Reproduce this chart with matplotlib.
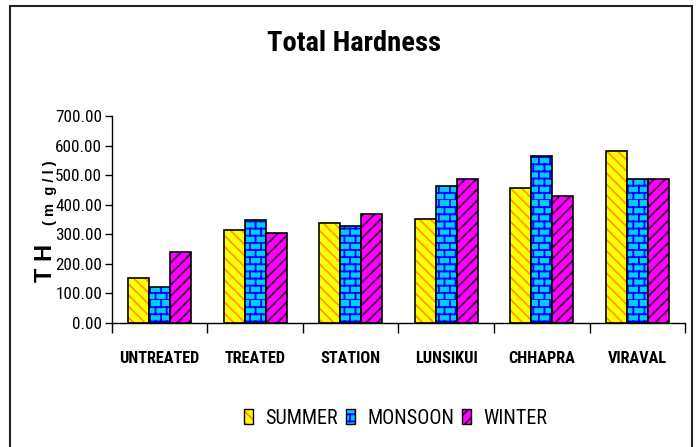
import warnings
import numpy as np
import matplotlib
matplotlib.use("Agg")
import matplotlib.pyplot as plt
import matplotlib.patches as mpatches
from matplotlib import hatch as mhatch
from matplotlib.path import Path

warnings.filterwarnings("ignore")

sites = ["UNTREATED", "TREATED", "STATION", "LUNSIKUI", "CHHAPRA", "VIRAVAL"]
summer = [152, 316, 339, 352, 458, 581]
monsoon = [123, 347, 328, 464, 565, 488]
winter = [240, 305, 370, 488, 430, 488]
seasons = ["SUMMER", "MONSOON", "WINTER"]


# brick pattern for the monsoon bars, hatch char 'b'
class BrickHatch(mhatch.HatchPatternBase):
    def __init__(self, hatch, density):
        n = hatch.count('b')
        self.rows = int(2.4 * density) * n
        self.cols = int(1.6 * density) * n
        self.num_vertices = 2 * self.rows + 2 * self.rows * self.cols

    def set_vertices_and_codes(self, vertices, codes):
        k = 0
        for i in range(self.rows):
            y0 = i / self.rows
            y1 = (i + 1) / self.rows
            vertices[k] = (0, y0)
            vertices[k + 1] = (1, y0)
            k += 2
            for j in range(self.cols):
                xx = (j + 0.5 * (i % 2)) / self.cols
                vertices[k] = (xx, y0)
                vertices[k + 1] = (xx, y1)
                k += 2
        codes[0::2] = Path.MOVETO
        codes[1::2] = Path.LINETO


mhatch._hatch_types.append(BrickHatch)

narrow = "Roboto Condensed"
plt.rcParams['hatch.linewidth'] = 1.3

fig = plt.figure(figsize=(6.99, 4.47), dpi=100)
ax = fig.add_axes([0.1602, 0.2774, 0.8198, 0.4631])

x = np.arange(len(sites))
w = 0.22
styles = [("#FFFF00", "#FF9900", "\\\\\\"),
          ("#00CCFF", "#0000FF", "b"),
          ("#FF00FF", "#440044", "///")]
handles = []
for k, vals in enumerate([summer, monsoon, winter]):
    fc, hc, h = styles[k]
    ax.bar(x + (k - 1) * w, vals, w, color=fc, edgecolor=hc, linewidth=0, hatch=h)
    ax.bar(x + (k - 1) * w, vals, w, fill=False, edgecolor="black", linewidth=1.2)
    handles.append((mpatches.Patch(facecolor=fc, edgecolor=hc, linewidth=0, hatch=h),
                    mpatches.Patch(fill=False, edgecolor="black", linewidth=1.0)))

ax.set_xlim(-0.5, len(sites) - 0.5)
ax.set_ylim(0, 700)
ax.set_yticks(np.arange(0, 701, 100))
ax.set_yticklabels(["%.2f" % v for v in np.arange(0, 701, 100)],
                   family=narrow, fontsize=12.3)
ax.set_xticks(np.arange(-0.5, len(sites), 1.0))
ax.set_xticklabels([])
ax.set_xticks(x, minor=True)
ax.set_xticklabels(sites, minor=True, family=narrow, fontweight="bold", fontsize=11.7)
ax.tick_params(axis="x", which="major", length=7, width=1, direction="out")
ax.tick_params(axis="x", which="minor", length=0, pad=20)
ax.tick_params(axis="y", length=5, width=1, pad=2)
for s in ["top", "right"]:
    ax.spines[s].set_visible(False)
for s in ["left", "bottom"]:
    ax.spines[s].set_linewidth(1)

fig.text(0.507, 0.902, "Total Hardness", ha="center", va="center",
         family=narrow, fontweight="bold", fontsize=20.5)
fig.text(52 / 699, 1 - 282 / 447, "T H", rotation=90, rotation_mode="anchor",
         ha="left", va="baseline", family="Liberation Sans", fontweight="bold", fontsize=17)
fig.text(54 / 699, 1 - 225 / 447, "( m  g / l )", rotation=90, rotation_mode="anchor",
         ha="left", va="baseline", family="Liberation Sans", fontweight="bold", fontsize=10.5)

leg = fig.legend(handles, seasons, loc="center", bbox_to_anchor=(0.566, 1 - 418 / 447),
                 ncol=3, frameon=False, prop={"family": narrow, "size": 14.5},
                 handlelength=0.45, handleheight=0.8, handletextpad=0.6,
                 columnspacing=0.4)

fig.patches.append(mpatches.Rectangle((10 / 699, -0.02), 682 / 699, 1.02 - 6 / 447,
                                      transform=fig.transFigure, fill=False,
                                      edgecolor="#222222", linewidth=1.5))

fig.savefig("out.png", dpi=100)
